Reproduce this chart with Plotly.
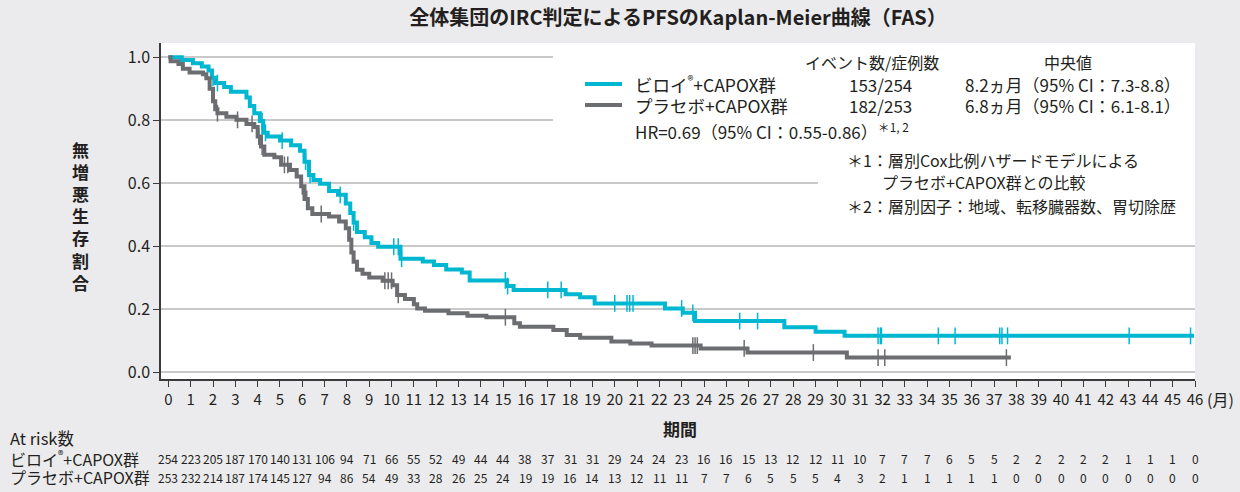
import plotly.graph_objects as go

# ---------------- data ----------------
months = list(range(0, 47))

# Kaplan-Meier step points (time in months, survival)
biroi_t = [0, 0.6, 1.1, 1.5, 1.8, 1.95, 2.1, 2.5, 2.8, 3.5, 3.65, 3.85, 4.1, 4.25, 4.45,
           5.0, 5.5, 5.9, 6.1, 6.3, 6.5, 6.8, 7.2, 7.6, 7.95, 8.15, 8.3, 8.45, 8.8, 9.1,
           9.4, 10.4, 11.4, 11.9, 12.45, 13.15, 13.5, 15.17, 15.47, 17.8, 18.45, 19.1,
           22.25, 23.05, 23.6, 27.6, 29.0, 30.3]
biroi_s = [1.0, 0.991, 0.981, 0.970, 0.958, 0.935, 0.918, 0.905, 0.890, 0.872, 0.845, 0.822, 0.797, 0.760, 0.748,
           0.735, 0.720, 0.703, 0.668, 0.626, 0.610, 0.598, 0.575, 0.563, 0.535, 0.505, 0.475, 0.445, 0.428, 0.410,
           0.398, 0.360, 0.351, 0.340, 0.326, 0.316, 0.291, 0.273, 0.261, 0.247, 0.238, 0.218,
           0.202, 0.188, 0.162, 0.142, 0.128, 0.115]
biroi_end = 45.96
biroi_cens = [2.0, 2.2, 4.2, 4.35, 5.1, 6.15, 6.35, 7.7, 8.3, 10.1, 10.3, 10.45, 15.1, 15.2,
              17.0, 17.6, 20.0, 20.55, 20.67, 20.82, 23.0, 23.5, 25.6, 26.4, 31.8, 31.9, 31.95,
              34.5, 35.25, 37.25, 37.35, 37.6, 43.05, 45.8]

placebo_t = [0, 0.1, 0.45, 0.65, 0.95, 1.55, 1.7, 1.85, 2.0, 2.1, 2.2, 2.6, 3.05, 3.5, 3.85,
             4.0, 4.15, 4.3, 4.75, 5.05, 5.45, 5.75, 5.95, 6.1, 6.25, 6.45, 7.2, 7.65, 7.95, 8.1,
             8.2, 8.3, 8.45, 8.7, 9.0, 9.6, 10.05, 10.25, 10.6, 11.0, 11.15, 11.5, 12.55, 13.4,
             14.25, 15.5, 15.75, 17.25, 17.85, 18.45, 19.85, 20.7, 21.65, 23.85, 25.95, 30.4]
placebo_s = [1.0, 0.987, 0.978, 0.963, 0.951, 0.946, 0.933, 0.900, 0.860, 0.835, 0.822, 0.811, 0.801, 0.788, 0.778,
             0.748, 0.716, 0.690, 0.682, 0.658, 0.642, 0.621, 0.590, 0.550, 0.520, 0.502, 0.494, 0.478, 0.457, 0.420,
             0.380, 0.350, 0.325, 0.312, 0.300, 0.290, 0.276, 0.245, 0.232, 0.215, 0.202, 0.195, 0.187, 0.179,
             0.174, 0.155, 0.144, 0.134, 0.118, 0.109, 0.097, 0.091, 0.084, 0.075, 0.062, 0.046]
placebo_end = 37.75
placebo_cens = [2.2, 3.1, 3.75, 4.05, 4.2, 5.2, 5.35, 6.0, 6.2, 6.85, 9.7, 9.85, 10.0, 10.3,
                15.1, 23.5, 23.6, 23.7, 25.8, 28.9, 31.8, 32.1, 37.55]

risk_biroi = [254, 223, 205, 187, 170, 140, 131, 106, 94, 71, 66, 55, 52, 49, 44, 44, 38, 37, 31, 31, 29,
              24, 24, 23, 16, 16, 15, 13, 12, 12, 11, 10, 7, 7, 7, 6, 5, 5, 2, 2, 2, 2, 2, 1, 1, 1, 0]
risk_placebo = [253, 232, 214, 187, 174, 145, 127, 94, 86, 54, 49, 33, 28, 26, 25, 24, 19, 19, 16, 14, 13,
                12, 11, 11, 7, 7, 6, 5, 5, 5, 4, 3, 2, 1, 1, 1, 1, 1, 0, 0, 0, 0, 0, 0, 0, 0, 0]

y_ticks = [0.0, 0.2, 0.4, 0.6, 0.8, 1.0]

name_biroi = "ビロイ<sup>®</sup>+CAPOX群"
name_placebo = "プラセボ+CAPOX群"
events_biroi = "153/254"
events_placebo = "182/253"
median_biroi = "8.2ヵ月（95% CI：7.3-8.8）"
median_placebo = "6.8ヵ月（95% CI：6.1-8.1）"

CYAN = "#00b7d2"
GRAY = "#6c6d71"
TXT = "#231f20"
JP = "Noto Sans CJK JP"

# ---------------- helpers ----------------
L, R, T, B = 161, 1195, 43, 379
def px(x):
    return (x - L) / (R - L)
def py(y):
    return (B - y) / (B - T)

def step_value(ts, ss, t):
    v = ss[0]
    for ti, si in zip(ts, ss):
        if t >= ti:
            v = si
    return v

fig = go.Figure()

for ts, ss, end, cens, col in [(biroi_t, biroi_s, biroi_end, biroi_cens, CYAN),
                               (placebo_t, placebo_s, placebo_end, placebo_cens, GRAY)]:
    fig.add_trace(go.Scatter(x=ts + [end], y=ss + [ss[-1]], mode="lines",
                             line=dict(color=col, width=4, shape="hv"),
                             showlegend=False, hoverinfo="skip"))
    fig.add_trace(go.Scatter(x=cens, y=[step_value(ts, ss, c) for c in cens], mode="markers",
                             marker=dict(symbol="line-ns", size=12, color=col,
                                         line=dict(color=col, width=1.5)),
                             showlegend=False, hoverinfo="skip"))

ann = []
def A(text, x, y, size=16, xanchor="left", bold=False, xref="paper", family=JP, color=TXT):
    if bold:
        text = "<b>" + text + "</b>"
    ann.append(dict(text=text, x=x, y=y, xref=xref, yref="paper", xanchor=xanchor,
                    yanchor="middle", showarrow=False,
                    font=dict(family=family, size=size, color=color)))

# legend block
A("イベント数/症例数", px(872), py(62), 16, "center")
A("中央値", px(1068), py(62), 16, "center")
A(name_biroi, px(633), py(84), 17.5)
A(name_placebo, px(633), py(105), 17.5)
A(events_biroi, px(880), py(84), 17, "center")
A(events_placebo, px(880), py(105), 17, "center")
A(median_biroi, px(963), py(84), 17)
A(median_placebo, px(963), py(105), 17)
A("HR=0.69（95% CI：0.55-0.86）<sup>＊1, 2</sup>", px(633), py(131), 17)
A("＊1：層別Cox比例ハザードモデルによる", px(845), py(160), 16)
A("プラセボ+CAPOX群との比較", px(880), py(182), 16)
A("＊2：層別因子：地域、転移臓器数、胃切除歴", px(845), py(206), 16)

# axis titles
A("<br>".join("無増悪生存割合"), px(80), py(216), 17, "center", bold=True)
A("期間", px(680), py(428), 17, "center", bold=True)
A("(月)", 46, py(399), 16, "left", xref="x")
ann[-1]["xshift"] = 10

# at-risk table
A("At risk数", px(8), py(438), 16.5)
A(name_biroi, px(8), py(458), 16)
A(name_placebo, px(8), py(477), 16)
for m, v in zip(months, risk_biroi):
    A(str(v), m, py(458), 12, "center", xref="x")
for m, v in zip(months, risk_placebo):
    A(str(v), m, py(477), 12, "center", xref="x")

shapes = [
    dict(type="rect", xref="paper", yref="paper", x0=px(553), x1=1, y0=py(140), y1=1,
         fillcolor="white", line=dict(width=0), layer="above"),
    dict(type="rect", xref="paper", yref="paper", x0=px(818), x1=1, y0=py(222), y1=py(139),
         fillcolor="white", line=dict(width=0), layer="above"),
    dict(type="line", xref="paper", yref="paper", x0=px(585), x1=px(622), y0=py(84), y1=py(84),
         line=dict(color=CYAN, width=4)),
    dict(type="line", xref="paper", yref="paper", x0=px(585), x1=px(622), y0=py(105), y1=py(105),
         line=dict(color=GRAY, width=4)),
]

fig.update_layout(
    width=1240, height=492,
    margin=dict(l=L, r=1240 - R, t=T, b=492 - B),
    paper_bgcolor="#ebebed", plot_bgcolor="white",
    font=dict(family=JP, size=16, color=TXT),
    title=dict(text="<b>全体集団のIRC判定によるPFSのKaplan-Meier曲線（FAS）</b>",
               x=0.5, xref="paper", xanchor="center", y=1 - 18 / 492, yanchor="middle",
               font=dict(family=JP, size=20, color=TXT)),
    annotations=ann, shapes=shapes,
    xaxis=dict(range=[-0.33, 46.0], tickvals=months, ticktext=[str(m) for m in months],
               showgrid=False, zeroline=False, showline=True, linecolor="#3a3a3a", linewidth=1.5,
               ticks="outside", ticklen=6, tickwidth=1.2, tickcolor="#3a3a3a",
               tickfont=dict(family=JP, size=15, color=TXT)),
    yaxis=dict(range=[-0.022, 1.045], tickvals=y_ticks, ticktext=[f"{v:.1f}" for v in y_ticks],
               showgrid=True, gridcolor="#c9c9c9", gridwidth=1.5, zeroline=False,
               showline=True, linecolor="#3a3a3a", linewidth=1.5,
               ticks="outside", ticklen=6, tickwidth=1.2, tickcolor="#3a3a3a",
               tickfont=dict(family=JP, size=16, color=TXT)),
)

fig.write_html("out.html", config={"displayModeBar": False},
               post_script="document.body.style.margin='0';document.body.style.background='#ebebed';")
